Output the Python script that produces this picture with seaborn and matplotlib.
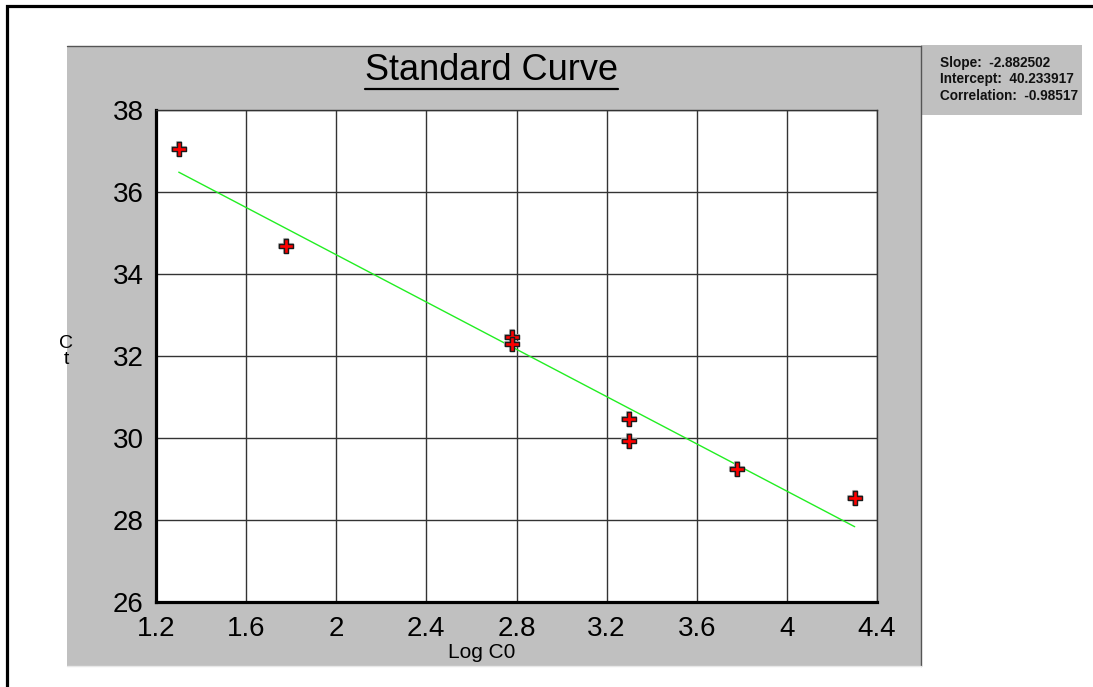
import matplotlib.pyplot as plt
import seaborn as sns
from matplotlib.lines import Line2D
from matplotlib.patches import Rectangle

# Standard curve data
log_c0 = [1.301, 1.778, 2.778, 2.778, 3.301, 3.301, 3.778, 4.301]
ct = [37.05, 34.68, 32.46, 32.29, 30.46, 29.93, 29.24, 28.53]

slope = -2.882502
intercept = 40.233917
correlation = -0.98517

x_ticks = [1.2, 1.6, 2.0, 2.4, 2.8, 3.2, 3.6, 4.0, 4.4]
x_tick_labels = ['1.2', '1.6', '2', '2.4', '2.8', '3.2', '3.6', '4', '4.4']
y_ticks = [26, 28, 30, 32, 34, 36, 38]

# fitted line over the data range
fit_x = [min(log_c0), max(log_c0)]
fit_y = [slope * x + intercept for x in fit_x]

sns.set_theme(style='white')
plt.rcParams['font.family'] = ['Liberation Sans', 'DejaVu Sans']
plt.rcParams['text.color'] = 'black'

W, H = 1093, 687
fig = plt.figure(figsize=(W / 100, H / 100), dpi=100)
fig.patch.set_facecolor('white')

# outer black frame
fig.add_artist(Rectangle((7 / W, -0.05), 1.2, 1 - 6 / H + 0.05, transform=fig.transFigure,
                         fill=False, edgecolor='black', linewidth=2.3, zorder=0))

# grey panel with bevel edges
px0, px1, py0, py1 = 67, 921, 46, 666
fig.add_artist(Rectangle((px0 / W, 1 - py1 / H), (px1 - px0) / W, (py1 - py0) / H,
                         transform=fig.transFigure, facecolor='#c0c0c0', edgecolor='none', zorder=0))
fig.add_artist(Line2D([px0 / W, px1 / W], [1 - py0 / H] * 2, transform=fig.transFigure,
                      color='#555555', linewidth=1, zorder=1))
fig.add_artist(Line2D([px1 / W] * 2, [1 - py0 / H, 1 - py1 / H], transform=fig.transFigure,
                      color='#555555', linewidth=1, zorder=1))
fig.add_artist(Line2D([px0 / W, px1 / W], [1 - py1 / H] * 2, transform=fig.transFigure,
                      color='#e8e8e8', linewidth=1, zorder=1))

# stats box
fig.add_artist(Rectangle((921 / W, 1 - 115 / H), 161 / W, 70 / H, transform=fig.transFigure,
                         facecolor='#c0c0c0', edgecolor='none', zorder=0))
stats = ['Slope:  %.6f' % slope, 'Intercept:  %.6f' % intercept, 'Correlation:  %.5f' % correlation]
for i, s in enumerate(stats):
    fig.text(940 / W, 1 - (67 + 16.5 * i) / H, s, fontsize=9.8, fontweight='bold',
             ha='left', va='baseline', color='#111111')

ax = fig.add_axes([156 / W, 1 - 602 / H, (877 - 156) / W, (602 - 110) / H])
ax.set_facecolor('white')

sns.lineplot(x=fit_x, y=fit_y, ax=ax, color='#22ee22', linewidth=1, zorder=3)
sns.scatterplot(x=log_c0, y=ct, ax=ax, marker='P', s=115, color='#b4b4b4',
                edgecolor='#b4b4b4', linewidth=1.5, zorder=4)
sns.scatterplot(x=log_c0, y=ct, ax=ax, marker='P', s=105, color='#ff0000',
                edgecolor='#1a1a1a', linewidth=1, zorder=5)

ax.set_xlim(1.2, 4.4)
ax.set_ylim(26, 38)
ax.set_xticks(x_ticks)
ax.set_xticklabels(x_tick_labels)
ax.set_yticks(y_ticks)
ax.tick_params(axis='both', length=0, labelsize=20, colors='black', labelcolor='black')
ax.tick_params(axis='x', pad=10)
ax.tick_params(axis='y', pad=9)
ax.grid(True, color='#333333', linewidth=1)
ax.set_axisbelow(True)
for side in ['left', 'bottom']:
    ax.spines[side].set_color('black')
    ax.spines[side].set_linewidth(2.3)
for side in ['top', 'right']:
    ax.spines[side].set_color('#333333')
    ax.spines[side].set_linewidth(1)
ax.set_xlabel('')
ax.set_ylabel('')

# labels
fig.text(482 / W, 1 - 658 / H, 'Log C0', fontsize=15, ha='center', va='baseline', color='black')
fig.text(66 / W, 1 - 348 / H, 'C', fontsize=14, ha='center', va='baseline', color='black')
fig.text(66 / W, 1 - 364 / H, 't', fontsize=14, ha='center', va='baseline', color='black')

# underlined title
title = fig.text(491 / W, 1 - 80 / H, 'Standard Curve', fontsize=26, ha='center',
                 va='baseline', color='black')
fig.canvas.draw()
bb = title.get_window_extent(fig.canvas.get_renderer())
fig.add_artist(Line2D([bb.x0 / W, bb.x1 / W], [1 - 89 / H] * 2, transform=fig.transFigure,
                      color='black', linewidth=1.6))

fig.savefig('out.png', dpi=100)
